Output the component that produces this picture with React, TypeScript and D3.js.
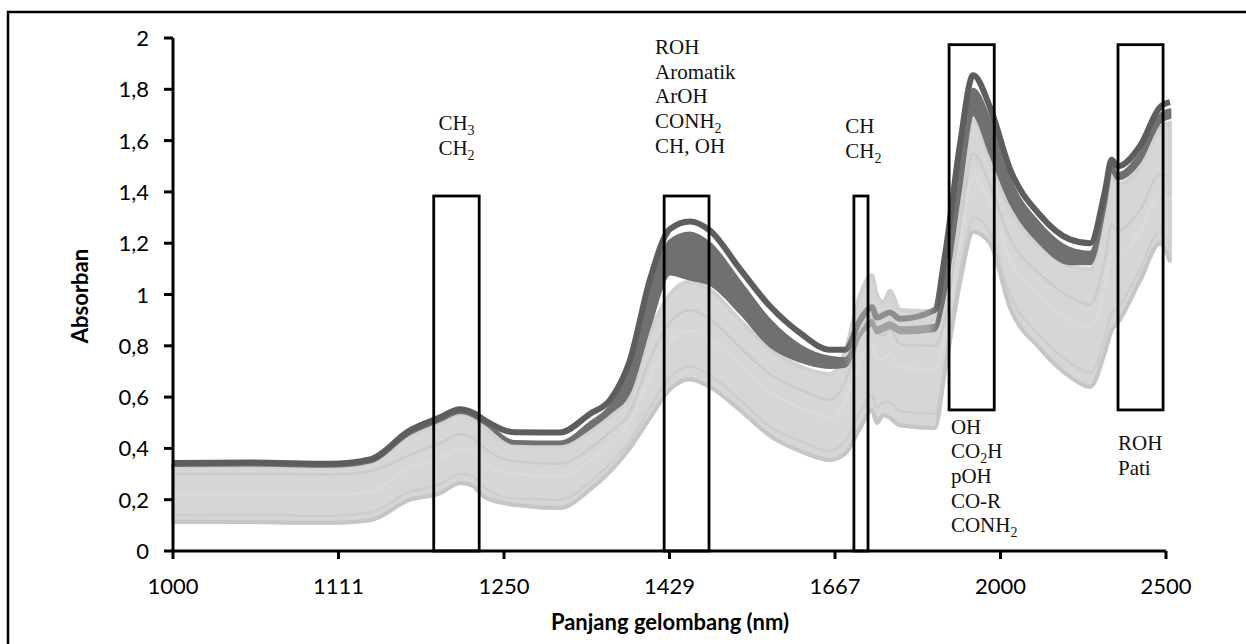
import React from 'react';
import * as d3 from 'd3';

// wavelengths (nm) of the sampled points, axis is linear in wavenumber
const wavelengths = [1000, 1050, 1105, 1135, 1167, 1192, 1210, 1221, 1232, 1260, 1305, 1337, 1359, 1381, 1405, 1429, 1454, 1480, 1521, 1564, 1610, 1658, 1684, 1710, 1731, 1740, 1752, 1764, 1784, 1853, 1874, 1907, 1936, 1975, 2023, 2100, 2183, 2243, 2290, 2310, 2330, 2406, 2477, 2515];

// dark spectra (top line, upper and lower edge of the dark bundle)
const darkTop = [0.343, 0.345, 0.34, 0.357, 0.47, 0.52, 0.553, 0.54, 0.51, 0.463, 0.462, 0.535, 0.59, 0.74, 1.06, 1.255, 1.285, 1.25, 1.10, 0.955, 0.85, 0.785, 0.785, 0.90, 0.95, 0.91, 0.92, 0.93, 0.905, 0.94, 1.15, 1.59, 1.855, 1.73, 1.49, 1.31, 1.215, 1.20, 1.41, 1.525, 1.50, 1.58, 1.73, 1.75];
const darkMid = [0.338, 0.34, 0.335, 0.352, 0.463, 0.513, 0.546, 0.533, 0.503, 0.427, 0.425, 0.50, 0.565, 0.70, 1.01, 1.21, 1.24, 1.20, 1.05, 0.90, 0.80, 0.755, 0.75, 0.85, 0.90, 0.87, 0.88, 0.89, 0.87, 0.88, 1.08, 1.52, 1.80, 1.68, 1.45, 1.275, 1.18, 1.165, 1.38, 1.50, 1.47, 1.55, 1.70, 1.72];
const darkLow = [0.333, 0.335, 0.33, 0.347, 0.457, 0.507, 0.54, 0.527, 0.497, 0.42, 0.418, 0.48, 0.54, 0.62, 0.88, 1.08, 1.06, 1.04, 0.93, 0.80, 0.74, 0.715, 0.72, 0.84, 0.88, 0.85, 0.86, 0.87, 0.85, 0.86, 1.00, 1.40, 1.70, 1.55, 1.36, 1.20, 1.12, 1.12, 1.35, 1.48, 1.45, 1.52, 1.67, 1.69];

// light spectra
const lightTop = [0.33, 0.33, 0.327, 0.345, 0.45, 0.50, 0.535, 0.52, 0.48, 0.415, 0.41, 0.47, 0.53, 0.60, 0.85, 1.00, 1.05, 1.02, 0.90, 0.79, 0.72, 0.69, 0.78, 1.00, 1.075, 1.00, 0.97, 1.015, 0.94, 0.935, 0.98, 1.35, 1.68, 1.52, 1.33, 1.19, 1.11, 1.10, 1.33, 1.46, 1.43, 1.50, 1.65, 1.67];
const lightA = [0.30, 0.30, 0.298, 0.31, 0.375, 0.42, 0.455, 0.44, 0.40, 0.35, 0.34, 0.40, 0.465, 0.54, 0.75, 0.89, 0.94, 0.905, 0.795, 0.69, 0.63, 0.59, 0.66, 0.84, 0.92, 0.85, 0.84, 0.865, 0.805, 0.80, 0.90, 1.26, 1.55, 1.425, 1.22, 1.08, 0.99, 0.96, 1.145, 1.27, 1.25, 1.33, 1.47, 1.46];
const lightM = [0.22, 0.22, 0.22, 0.23, 0.325, 0.36, 0.40, 0.39, 0.345, 0.30, 0.29, 0.355, 0.42, 0.50, 0.685, 0.815, 0.86, 0.83, 0.725, 0.62, 0.56, 0.52, 0.58, 0.74, 0.81, 0.75, 0.75, 0.77, 0.715, 0.71, 0.84, 1.20, 1.46, 1.36, 1.14, 0.995, 0.90, 0.87, 1.04, 1.155, 1.145, 1.25, 1.39, 1.365];
const lightC = [0.14, 0.14, 0.137, 0.15, 0.23, 0.26, 0.30, 0.29, 0.245, 0.205, 0.20, 0.27, 0.34, 0.425, 0.56, 0.675, 0.72, 0.685, 0.59, 0.485, 0.43, 0.39, 0.43, 0.54, 0.61, 0.56, 0.58, 0.58, 0.545, 0.535, 0.735, 1.085, 1.30, 1.24, 1.00, 0.84, 0.735, 0.695, 0.84, 0.93, 0.95, 1.10, 1.245, 1.19];
const lightBottom = [0.114, 0.113, 0.11, 0.12, 0.20, 0.225, 0.265, 0.255, 0.21, 0.18, 0.168, 0.24, 0.31, 0.40, 0.52, 0.63, 0.67, 0.64, 0.55, 0.45, 0.39, 0.355, 0.38, 0.48, 0.55, 0.50, 0.53, 0.52, 0.49, 0.48, 0.70, 1.05, 1.245, 1.20, 0.95, 0.79, 0.68, 0.64, 0.78, 0.86, 0.89, 1.055, 1.20, 1.13];

const xTickWavenumbers = [10000, 9000, 8000, 7000, 6000, 5000, 4000];
const xTickLabels = ['1000', '1111', '1250', '1429', '1667', '2000', '2500'];
const yTicks = [0, 0.2, 0.4, 0.6, 0.8, 1, 1.2, 1.4, 1.6, 1.8, 2];
const yTickLabels = ['0', '0,2', '0,4', '0,6', '0,8', '1', '1,2', '1,4', '1,6', '1,8', '2'];

// marked regions: wavelength range and absorbance range
const boxes = [
  { from: 1187, to: 1227, low: 0, high: 1.384 },
  { from: 1422, to: 1479, low: 0, high: 1.384 },
  { from: 1699, to: 1724, low: 0, high: 1.384 },
  { from: 1883, to: 1985, low: 0.55, high: 1.974 },
  { from: 2331, to: 2489, low: 0.55, high: 1.974 },
];

// group labels, anchored at (wavelength, absorbance) of the first baseline
const annotations = [
  { nm: 1191, a: 1.641, lines: ['CH_3', 'CH_2'] },
  { nm: 1411, a: 1.938, lines: ['ROH', 'Aromatik', 'ArOH', 'CONH_2', 'CH, OH'] },
  { nm: 1684, a: 1.628, lines: ['CH', 'CH_2'] },
  { nm: 1887, a: 0.458, lines: ['OH', 'CO_2H', 'pOH', 'CO-R', 'CONH_2'] },
  { nm: 2331, a: 0.394, lines: ['ROH', 'Pati'] },
];

const W = 1246;
const H = 644;
const plot = { left: 173, right: 1166, top: 38, bottom: 551 };

const xScale = d3.scaleLinear().domain([10000, 4000]).range([plot.left, plot.right]);
const yScale = d3.scaleLinear().domain([0, 2]).range([plot.bottom, plot.top]);
const xPos = (nm: number) => xScale(1e7 / nm);

const lineGen = d3.line<number>()
  .x((_, i) => xPos(wavelengths[i]))
  .y(v => yScale(v))
  .curve(d3.curveMonotoneX);

const bandPath = (lo: number[], hi: number[]) =>
  d3.area<number>()
    .x(nm => xPos(nm))
    .y0((_, i) => yScale(lo[i]))
    .y1((_, i) => yScale(hi[i]))
    .curve(d3.curveMonotoneX)(wavelengths) || '';

const serif = '"Liberation Serif", "Times New Roman", serif';
const sans = 'Lato, "Open Sans", sans-serif';

// the dark spectra fade to mid grey where they sink below the light ones
const fadeOffset = (nm: number) => (xPos(nm) - plot.left) / (plot.right - plot.left);

const renderLabel = (s: string) => {
  const parts = s.split(/_(\d)/);
  return parts.map((p, i) => {
    if (i % 2 === 1) {
      return <tspan key={i} dy={5} fontSize={14}>{p}</tspan>;
    }
    return <tspan key={i} dy={i > 0 ? -5 : 0}>{p}</tspan>;
  });
};

const Fade: React.FC<{ id: string; dark: string; mid: string }> = ({ id, dark, mid }) => (
  <linearGradient id={id} gradientUnits="userSpaceOnUse" x1={plot.left} x2={plot.right} y1={0} y2={0}>
    <stop offset={0} stopColor={dark} />
    <stop offset={fadeOffset(1680)} stopColor={dark} />
    <stop offset={fadeOffset(1705)} stopColor={mid} />
    <stop offset={fadeOffset(1840)} stopColor={mid} />
    <stop offset={fadeOffset(1862)} stopColor={dark} />
    <stop offset={1} stopColor={dark} />
  </linearGradient>
);

const App: React.FC = () => {
  return (
    <svg width={W} height={H} style={{ position: 'absolute', left: 0, top: 0, background: '#fff' }}>
      <defs>
        <Fade id="fadeTop" dark="#5d5d5d" mid="#8e8e8e" />
        <Fade id="fadeBand" dark="#707070" mid="#a2a2a2" />
      </defs>
      <rect x={8} y={12} width={1270} height={670} fill="none" stroke="#000" strokeWidth={2.5} />

      {/* light bundle */}
      <path d={bandPath(lightBottom, lightTop)} fill="#d6d6d6" stroke="#d0d0d0" strokeWidth={4} strokeLinejoin="round" />
      <path d={lineGen(lightA) || ''} fill="none" stroke="#cbcbcb" strokeWidth={2.5} />
      <path d={lineGen(lightM) || ''} fill="none" stroke="#dadada" strokeWidth={3} />
      <path d={lineGen(lightC) || ''} fill="none" stroke="#cdcdcd" strokeWidth={2.5} />
      <path d={lineGen(lightBottom) || ''} fill="none" stroke="#c6c6c6" strokeWidth={4} />

      {/* dark bundle */}
      <path d={bandPath(darkLow, darkMid)} fill="url(#fadeBand)" stroke="url(#fadeBand)" strokeWidth={3} strokeLinejoin="round" />
      <path d={lineGen(darkTop) || ''} fill="none" stroke="url(#fadeTop)" strokeWidth={6} strokeLinejoin="round" />

      {/* marked regions */}
      {boxes.map((b, i) => (
        <rect
          key={i}
          x={xPos(b.from)}
          y={yScale(b.high)}
          width={xPos(b.to) - xPos(b.from)}
          height={yScale(b.low) - yScale(b.high)}
          fill="none"
          stroke="#000"
          strokeWidth={2.8}
        />
      ))}

      {/* y axis */}
      <line x1={plot.left} x2={plot.left} y1={plot.top} y2={plot.bottom} stroke="#000" strokeWidth={3} />
      {yTicks.map((t, i) => (
        <g key={t}>
          <line x1={plot.left - 9} x2={plot.left} y1={yScale(t)} y2={yScale(t)} stroke="#000" strokeWidth={3} />
          <text x={149} y={yScale(t) + 8} textAnchor="end" fontFamily={sans} fontSize={22} fill="#000">
            {yTickLabels[i]}
          </text>
        </g>
      ))}

      {/* x axis */}
      <line x1={plot.left} x2={plot.right} y1={plot.bottom} y2={plot.bottom} stroke="#000" strokeWidth={3} />
      {xTickWavenumbers.map((wn, i) => (
        <g key={wn}>
          <line x1={xScale(wn)} x2={xScale(wn)} y1={plot.bottom} y2={plot.bottom + 8} stroke="#000" strokeWidth={3} />
          <text x={xScale(wn)} y={594} textAnchor="middle" fontFamily={sans} fontSize={22} fill="#000">
            {xTickLabels[i]}
          </text>
        </g>
      ))}

      <text x={670} y={630} textAnchor="middle" fontFamily={sans} fontSize={22} fontWeight="bold" fill="#000">
        Panjang gelombang (nm)
      </text>
      <text transform="translate(88,296) rotate(-90)" textAnchor="middle" fontFamily={sans} fontSize={22} fontWeight="bold" fill="#000">
        Absorban
      </text>

      {/* group labels */}
      {annotations.map((a, i) => (
        <g key={i} fontFamily={serif} fontSize={21} fill="#111">
          {a.lines.map((l, j) => (
            <text key={j} x={xPos(a.nm)} y={yScale(a.a) + j * 24.7}>
              {renderLabel(l)}
            </text>
          ))}
        </g>
      ))}
    </svg>
  );
};

export default App;
